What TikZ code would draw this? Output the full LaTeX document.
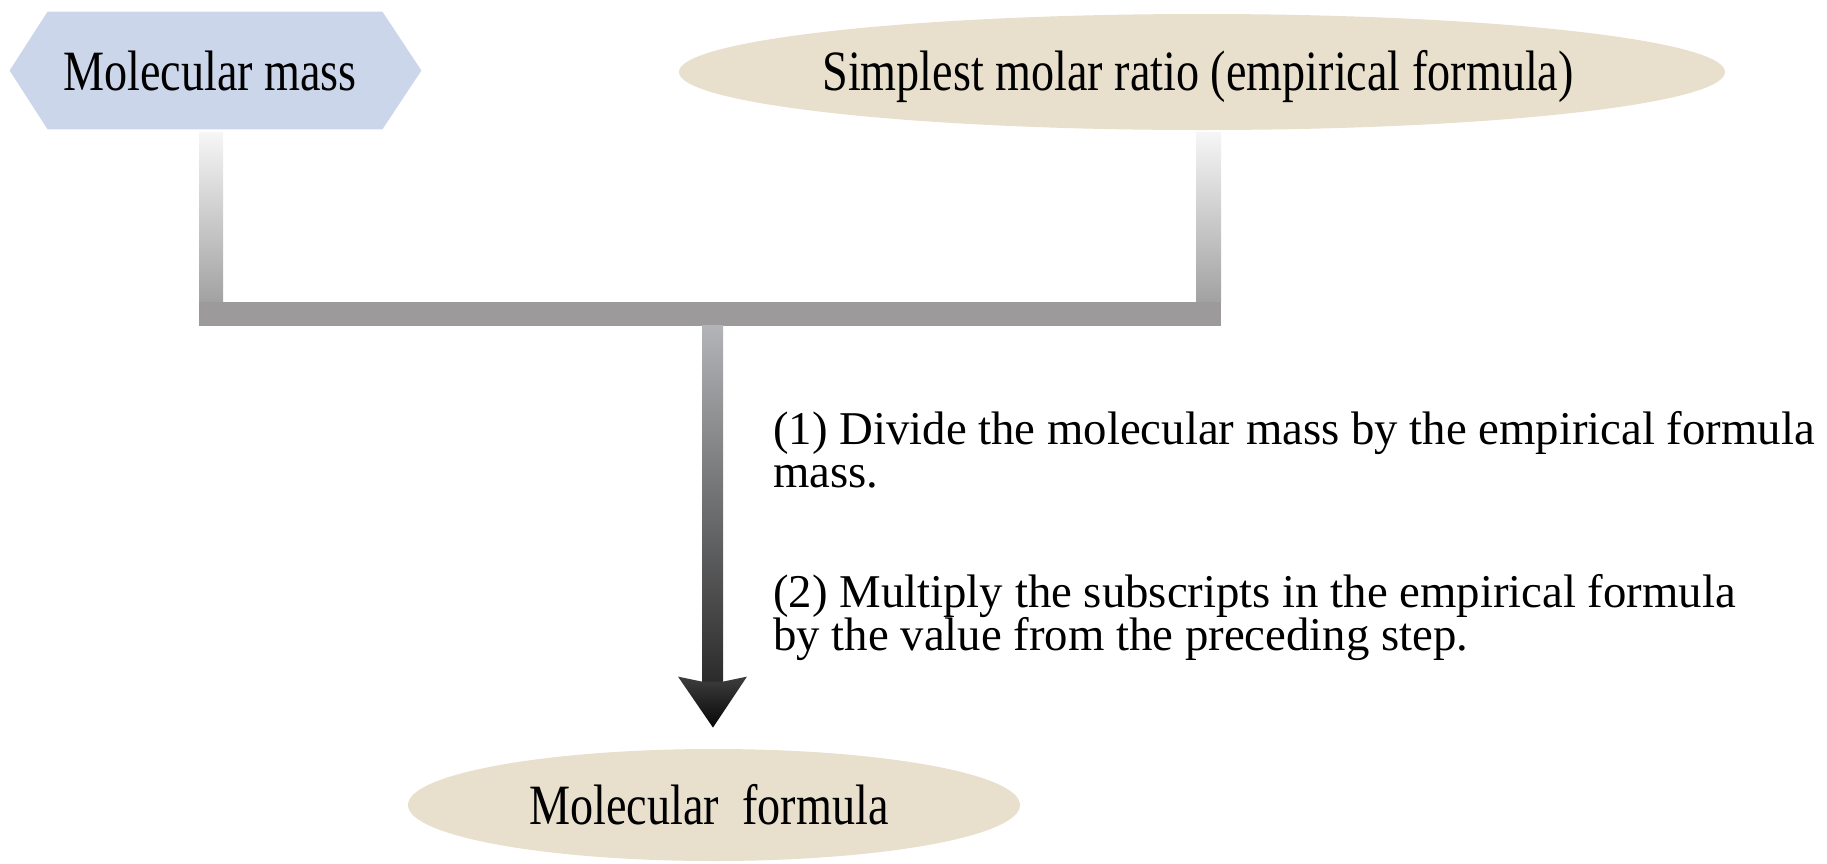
\documentclass[tikz,border=0pt]{standalone}
\usepackage{fontspec}
\setmainfont{Liberation Serif}
\newfontfamily\shapefont[FakeStretch=0.81]{Liberation Serif}
\newfontfamily\stepfont[FakeStretch=0.995]{Liberation Serif}
\usetikzlibrary{shapes.geometric,calc}
\definecolor{hexblue}{HTML}{CBD6EA}
\definecolor{tanfill}{HTML}{E8DFCC}
\definecolor{bartop}{HTML}{F6F6F6}
\definecolor{barbot}{HTML}{A2A2A2}
\definecolor{barmid}{HTML}{9C9A9A}
\definecolor{shafttop}{HTML}{B3B4B7}
\definecolor{shaftbot}{HTML}{2B2B2B}
\definecolor{headtop}{HTML}{3E3E3E}
\definecolor{headbot}{HTML}{060606}
\begin{document}
\begin{tikzpicture}[x=0.5pt,y=-0.5pt,
  shapelabel/.style={font=\shapefont\fontsize{28.5}{32}\selectfont, inner sep=0pt, text=black},
  oval/.style={ellipse, fill=tanfill, inner sep=0pt},
  steptext/.style={font=\stepfont\fontsize{23.5}{21.65}\selectfont, align=left, anchor=north west, inner sep=0pt, text=black},
  vbar/.style={top color=bartop, bottom color=barbot},
  shaftshade/.style={top color=shafttop, bottom color=shaftbot},
  headshade/.style={top color=headtop, bottom color=headbot},
  ]
\useasboundingbox (0,0) rectangle (1827,863);

% Molecular mass (hexagon)
\node[inner sep=0pt, minimum width=167pt, minimum height=58.5pt] (mm) at (215,70.5) {};
\fill[hexblue] (mm.north west) -- (mm.north east) -- ([xshift=19.5pt]mm.east)
  -- (mm.south east) -- (mm.south west) -- ([xshift=-19pt]mm.west) -- cycle;
\node[shapelabel] (mmt) at ([xshift=-2.5pt]mm.center) {Molecular mass};

% Simplest molar ratio (ellipse)
\node[oval, minimum width=523pt, minimum height=58pt] (simp) at (1202,72) {};
\node[shapelabel] (simpt) at ([xshift=-2pt,yshift=-2pt]simp.center) {Simplest molar ratio (empirical formula)};

% Molecular formula (ellipse)
\node[oval, minimum width=306pt, minimum height=56pt] (mf) at (714,805) {};
\node[shapelabel] (mft) at ([xshift=-2.5pt]mf.center) {Molecular\ \ formula};

% junction and tip
\coordinate (jn) at (712.5,313.5);
\coordinate (tip) at ($(mf.north)+(-1,-21)$);

% bars
\shade[vbar] ($(mm.south)+(-16,3)$) rectangle ($(mm.south |- jn)+(8,-12)$);
\shade[vbar] ($(simp.south)+(-6,2)$) rectangle ($(simp.south |- jn)+(19,-12)$);
\fill[barmid] ($(mm.south |- jn)+(-16,-12)$) rectangle ($(simp.south |- jn)+(19,12)$);

% arrow
\shade[shaftshade] ($(jn)+(-10.5,12)$) rectangle ($(tip)+(10,-45)$);
\shade[headshade] (tip) -- ++(-35,-51) -- ++(24,5) -- ++(21,0) -- ++(24,-5) -- cycle;

% step texts
\node[steptext] (s1) at (773,411) {(1) Divide the molecular mass by the empirical formula\\mass.};
\node[steptext] (s2) at (773,574) {(2) Multiply the subscripts in the empirical formula\\by the value from the preceding step.};
\end{tikzpicture}
\end{document}
